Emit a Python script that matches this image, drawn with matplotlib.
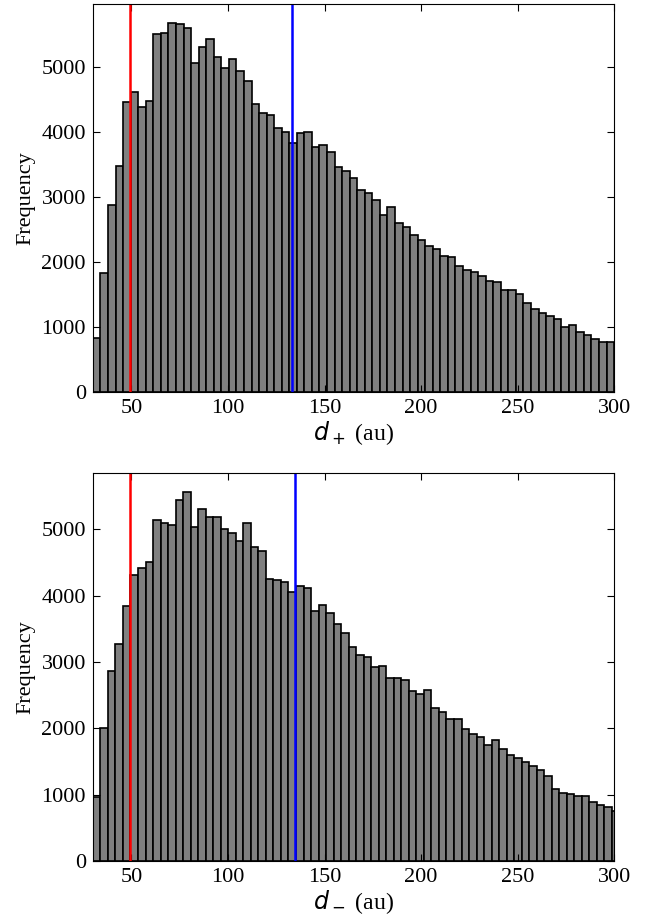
import numpy as np
import matplotlib
matplotlib.use("Agg")
import matplotlib.pyplot as plt

plt.rcParams['font.family'] = ['Liberation Serif', 'DejaVu Serif']
plt.rcParams['mathtext.fontset'] = 'dejavusans'

# bin counts
counts_plus = [826, 1826, 2877, 3477, 4467, 4621, 4390, 4477, 5503, 5518,
               5682, 5656, 5605, 5067, 5303, 5436, 5159, 4979, 5123, 4944,
               4779, 4431, 4297, 4266, 4066, 4005, 3836, 3990, 4005, 3774,
               3805, 3687, 3466, 3400, 3297, 3103, 3061, 2949, 2728, 2851,
               2600, 2533, 2415, 2338, 2251, 2200, 2097, 2077, 1944, 1877,
               1846, 1779, 1713, 1697, 1564, 1569, 1503, 1364, 1282, 1221,
               1169, 1118, 1005, 1026, 923, 882, 810, 774, 774]
counts_minus = [960, 2000, 2869, 3266, 3844, 4307, 4422, 4503, 5141, 5090,
                5065, 5442, 5568, 5040, 5312, 5181, 5181, 5005, 4940, 4829,
                5101, 4739, 4678, 4246, 4231, 4211, 4060, 4151, 4111, 3774,
                3854, 3744, 3578, 3437, 3221, 3111, 3080, 2920, 2945, 2754,
                2764, 2724, 2563, 2523, 2578, 2307, 2246, 2146, 2146, 1995,
                1915, 1874, 1749, 1819, 1693, 1603, 1553, 1494, 1430, 1368,
                1278, 1083, 1033, 1008, 977, 977, 897, 852, 812, 757]

edges_plus = np.linspace(30, 300, len(counts_plus) + 1)
edges_minus = 30 + 3.897 * np.arange(len(counts_minus) + 1)

red_lines = [49.0, 49.3]
blue_lines = [133.0, 134.9]
xlabels = [r'$d_+$ (au)', r'$d_-$ (au)']

fig = plt.figure(figsize=(6.54, 9.18), dpi=100)
ax1 = fig.add_axes([0.142, 0.573, 0.797, 0.4226])
ax2 = fig.add_axes([0.142, 0.062, 0.797, 0.4227])

for ax, counts, edges, rl, bl, xl in zip([ax1, ax2], [counts_plus, counts_minus],
                                        [edges_plus, edges_minus], red_lines,
                                        blue_lines, xlabels):
    ax.hist(edges[:-1], bins=edges, weights=counts, color='gray',
            edgecolor='black', linewidth=1.2)
    ax.axvline(rl, color='red', lw=1.8)
    ax.axvline(bl, color='blue', lw=1.8)
    ax.set_xlim(30, 300)
    ax.set_xticks([50, 100, 150, 200, 250, 300])
    ax.set_yticks([0, 1000, 2000, 3000, 4000, 5000])
    ax.tick_params(direction='in', top=True, right=True, labelsize=16,
                   length=5, pad=5)
    ax.set_ylabel('Frequency', fontsize=16, labelpad=4)
    ax.set_xlabel(xl, fontsize=17, labelpad=1)

fig.savefig('out.png', dpi=100)
